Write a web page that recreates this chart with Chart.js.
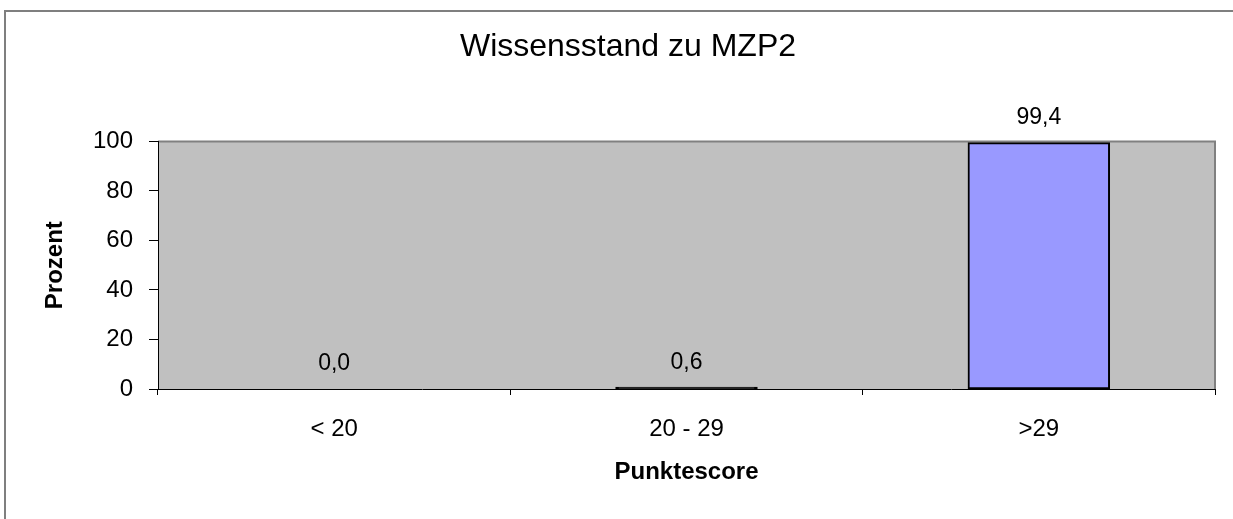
<!DOCTYPE html>
<html>
<head>
<meta charset="utf-8">
<script src="https://cdn.jsdelivr.net/npm/chart.js@4/dist/chart.umd.min.js"></script>
<style>
  html, body { margin: 0; padding: 0; background: #fff; overflow: hidden; }
  #frame {
    position: absolute; left: 4px; top: 10px;
    width: 1300px; height: 600px;
    border: 2px solid #7f7f7f;
  }
  #wrap { position: absolute; left: 0; top: 0; width: 1280px; height: 519px; }
</style>
</head>
<body>
<div id="frame"></div>
<div id="wrap"><canvas id="chart"></canvas></div>
<script>
// ── Data ──
const CATEGORIES = ["< 20", "20 - 29", ">29"];
const PERCENT    = [0.0, 0.6, 99.4];
const Y_TICKS    = [0, 20, 40, 60, 80, 100];

const FONT = "'Liberation Sans', Arial, sans-serif";

// grey plot area with the thin grey frame on top / right
const plotBg = {
  id: "plotBg",
  beforeDraw(chart) {
    const { ctx, chartArea: a } = chart;
    ctx.save();
    ctx.fillStyle = "#c0c0c0";
    ctx.fillRect(a.left, a.top, a.right - a.left, a.bottom - a.top);
    ctx.strokeStyle = "#808080";
    ctx.lineWidth = 2;
    ctx.beginPath();
    ctx.moveTo(a.left, a.top);
    ctx.lineTo(a.right, a.top);
    ctx.lineTo(a.right, a.bottom);
    ctx.stroke();
    ctx.restore();
  }
};

// value labels above the bars, German decimal comma
const valueLabels = {
  id: "valueLabels",
  afterDatasetsDraw(chart) {
    const { ctx } = chart;
    const meta = chart.getDatasetMeta(0);
    ctx.save();
    ctx.font = "23px " + FONT;
    ctx.fillStyle = "#000";
    ctx.textAlign = "center";
    ctx.textBaseline = "middle";
    meta.data.forEach((bar, i) => {
      ctx.fillText(PERCENT[i].toFixed(1).replace(".", ","), bar.x, bar.y - 25);
    });
    ctx.restore();
  }
};

new Chart(document.getElementById("chart"), {
  type: "bar",
  data: {
    labels: CATEGORIES,
    datasets: [{
      data: PERCENT,
      // very flat bars show only their black outline
      backgroundColor: c => (c.raw < 1 ? "#000" : "#9999ff"),
      borderColor: "#000",
      borderWidth: 2,
      borderSkipped: false,
      inflateAmount: 0.75,
      barPercentage: 0.4,
      categoryPercentage: 1
    }]
  },
  options: {
    responsive: true,
    maintainAspectRatio: false,
    animation: false,
    layout: { padding: { left: 41, right: 65, top: 0, bottom: 0 } },
    plugins: {
      legend: { display: false },
      tooltip: { enabled: false },
      title: {
        display: true,
        text: "Wissensstand zu MZP2",
        color: "#000",
        font: { family: FONT, size: 32, weight: "normal" },
        padding: { top: 28, bottom: 75 }
      }
    },
    scales: {
      x: {
        offset: true,
        afterFit(s) { s.height = 130; },
        border: { display: true, color: "#000", width: 1 },
        grid: { offset: true, drawOnChartArea: false, drawTicks: true, tickLength: 6, color: "#000" },
        ticks: { color: "#000", padding: 20, font: { family: FONT, size: 24 } },
        title: {
          display: true, text: "Punktescore", color: "#000",
          font: { family: FONT, size: 24, weight: "bold" },
          padding: { top: 0, bottom: 32 }
        }
      },
      y: {
        min: 0, max: 100,
        afterFit(s) { s.width = 117; },
        afterBuildTicks(s) { s.ticks = Y_TICKS.map(v => ({ value: v })); },
        border: { display: true, color: "#000", width: 1 },
        grid: { drawOnChartArea: false, drawTicks: true, tickLength: 9, color: "#000" },
        ticks: { color: "#000", padding: 16, font: { family: FONT, size: 24 } },
        title: {
          display: true, text: "Prozent", color: "#000",
          font: { family: FONT, size: 24, weight: "bold" },
          padding: { top: 0, bottom: 0 }
        }
      }
    }
  },
  plugins: [plotBg, valueLabels]
});
</script>
</body>
</html>
